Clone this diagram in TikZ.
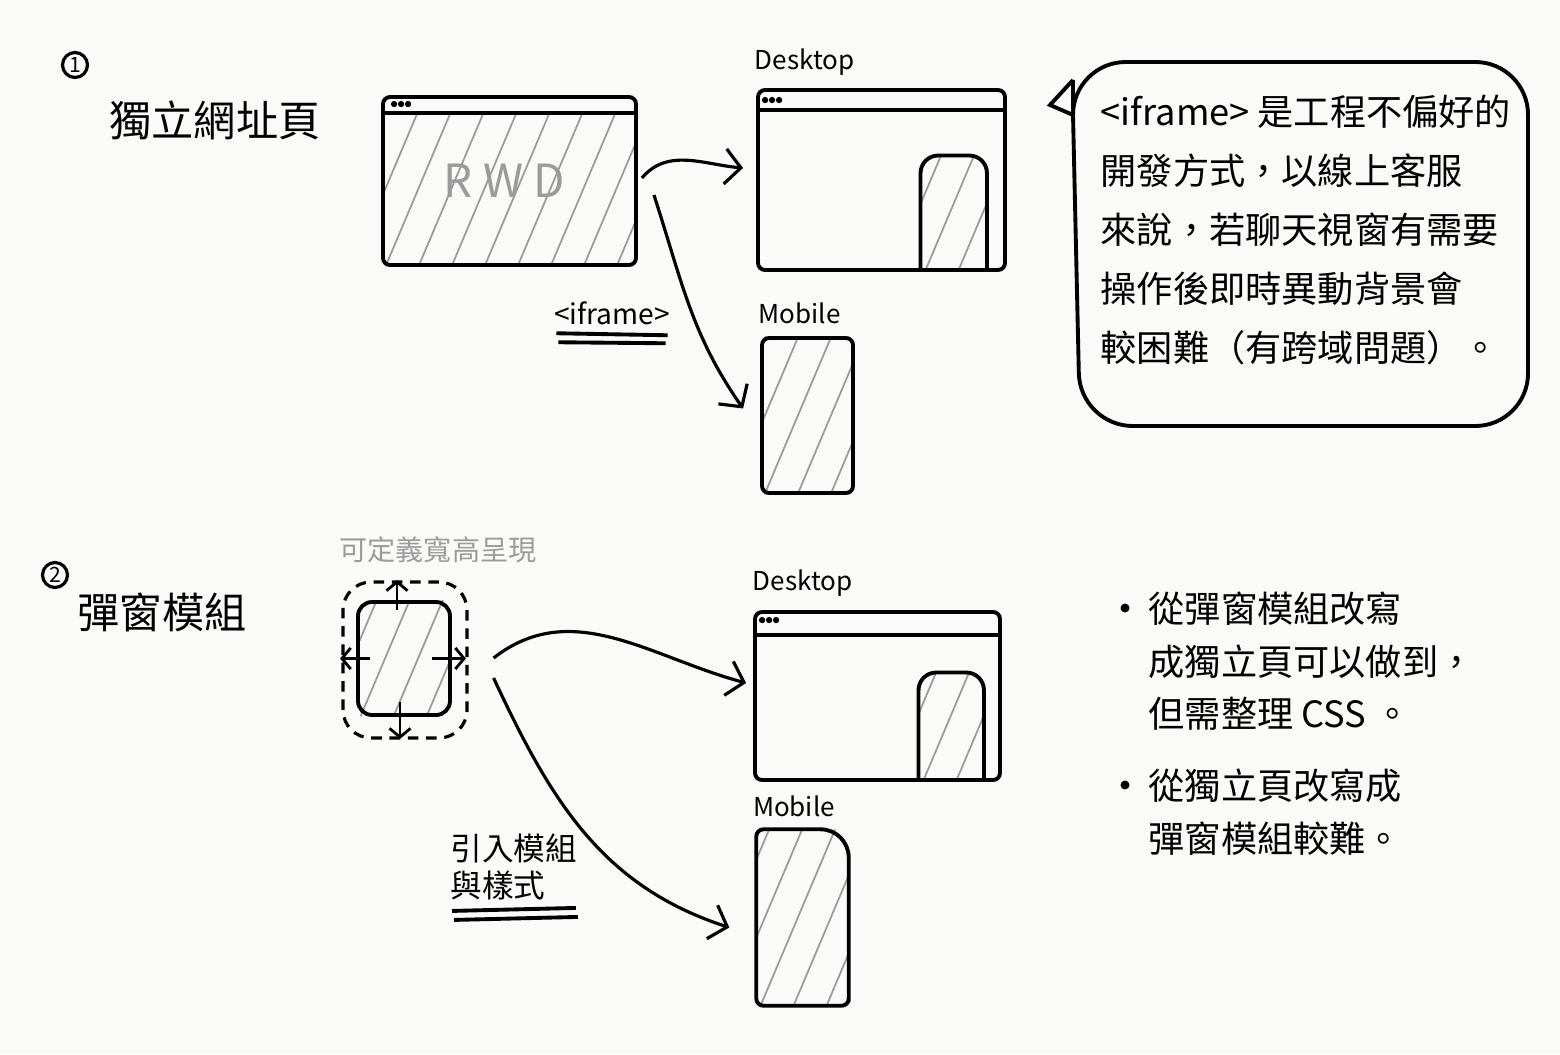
\documentclass[tikz,border=0pt]{standalone}
\usepackage{fontspec}
\setmainfont{Noto Sans CJK TC}
\usetikzlibrary{positioning,calc,arrows.meta,backgrounds}

\definecolor{paper}{RGB}{250,250,248}
\definecolor{pencil}{RGB}{155,155,155}

\tikzset{
  winbox/.style={draw, line width=1.1pt, rounded corners=2pt, inner sep=0pt},
  padbox/.style={inner sep=0pt},
  winline/.style={line width=1.1pt},
  popzone/.style={draw, line width=0.9pt, dash pattern=on 3pt off 2.2pt, rounded corners=8pt, inner sep=0pt},
  hatchline/.style={draw=pencil, line width=0.5pt},
  flow/.style={line width=0.9pt, -{Straight Barb[length=4.5pt,width=10pt]}},
  growarrow/.style={line width=0.8pt, -{Straight Barb[length=2.5pt,width=6pt]}},
  uline/.style={line width=1.1pt},
  numcirc/.style={draw, circle, line width=0.9pt, inner sep=0pt, minimum size=0.25cm, font=\fontsize{6}{6}\selectfont},
  headline/.style={inner sep=0pt, font=\fontsize{12}{14}\selectfont},
  lbl/.style={inner sep=0pt, font=\fontsize{7.4}{9}\selectfont},
  notetext/.style={inner sep=0pt, align=left, font=\fontsize{10.3}{16.8}\selectfont},
  bullettext/.style={inner sep=0pt, align=left, font=\fontsize{10.3}{15}\selectfont},
  dot/.style={fill, circle, inner sep=0pt, minimum size=0.09cm}
}

% diagonal pencil hatching inside a box
\newcommand{\hatcharea}[2]{%
  \begin{pgfonlayer}{background}
  \begin{scope}
    \clip[rounded corners=2pt] (#1) rectangle (#2);
    \foreach \k in {-3,...,8}
      \draw[hatchline] ($(#1)+(\k*0.33,-0.1)$) -- ++(1.1,2.6);
  \end{scope}
  \end{pgfonlayer}}

\begin{document}
\begin{tikzpicture}
	\begin{pgfonlayer}{background}
	\fill[paper] (0,0) rectangle (15.6,-10.54);
	\end{pgfonlayer}
	\useasboundingbox (0,0) rectangle (15.6,-10.54);

	% part 1
	\node[numcirc] (one) at (0.75,-0.65) {1};
	\node[headline] (title1) at (2.15,-1.2) {獨立網址頁};

	\node[winbox, minimum width=2.53cm, minimum height=1.68cm] (rwd) at (5.095,-1.81) {};
	\draw[winline] ([yshift=-0.18cm]rwd.north west) -- ([yshift=-0.18cm]rwd.north east);
	\foreach \d in {0.13,0.2,0.27}
		\fill ([xshift=\d cm,yshift=-0.09cm]rwd.north west) circle (0.9pt);
	\hatcharea{rwd.south west}{[yshift=-0.18cm]rwd.north east}
	\node[inner sep=0pt, text=pencil, font=\fontsize{13}{14}\selectfont] (rwdtxt) at ([xshift=-0.05cm]rwd.center) {R\hspace{3pt}W\hspace{3pt}D};

	\node[winbox, minimum width=2.47cm, minimum height=1.8cm] (desk1) at (8.815,-1.8) {};
	\draw[winline] ([yshift=-0.22cm]desk1.north west) -- ([yshift=-0.22cm]desk1.north east);
	\foreach \d in {0.09,0.16,0.23}
		\fill ([xshift=\d cm,yshift=-0.12cm]desk1.north west) circle (0.9pt);
	\node[padbox, minimum width=0.65cm, minimum height=1.15cm, anchor=south east] (chat1) at ([xshift=-0.2cm]desk1.south east) {};
	\draw[winline, rounded corners=5pt] (chat1.south west) -- (chat1.north west) -- (chat1.north east) -- (chat1.south east);
	\hatcharea{chat1.south west}{chat1.north east}
	\node[lbl, above right=0.12cm and -0.02cm of desk1.north west] (desk1lbl) {Desktop};

	\node[winbox, minimum width=0.91cm, minimum height=1.55cm] (mob1) at (8.075,-4.155) {};
	\hatcharea{mob1.south west}{mob1.north east}
	\node[lbl, above right=0.12cm and -0.02cm of mob1.north west] (mob1lbl) {Mobile};

	\draw[flow] ([xshift=0.04cm,yshift=0.03cm]rwd.east) to[out=50,in=175] ([xshift=-0.13cm,yshift=0.12cm]desk1.west);
	\draw[flow] ([xshift=0.16cm,yshift=-0.14cm]rwd.east) to[out=-72,in=125] ([xshift=-0.17cm,yshift=0.07cm]mob1.west);

	\node[lbl, font=\fontsize{8}{9}\selectfont] (ifr) at (6.12,-3.13) {<iframe>};
	\draw[uline] ([xshift=0.03cm,yshift=-0.08cm]ifr.south west) -- ([xshift=-0.03cm,yshift=-0.1cm]ifr.south east);
	\draw[uline] ([xshift=0.05cm,yshift=-0.17cm]ifr.south west) -- ([xshift=-0.05cm,yshift=-0.18cm]ifr.south east);

	% speech bubble
	\draw[winline] (10.73,-0.80) -- (10.50,-1.05) -- (10.73,-1.15)
		[rounded corners=15pt] -- (10.80,-4.26) -- (15.28,-4.26) -- (15.28,-0.62) -- (10.73,-0.62) -- (10.73,-0.80);
	\node[notetext, anchor=north west] (note) at (11.0,-0.94) {<iframe> 是工程不偏好的\\開發方式，以線上客服\\來說，若聊天視窗有需要\\操作後即時異動背景會\\較困難（有跨域問題）。};

	% part 2
	\node[numcirc] (two) at (0.55,-5.75) {2};
	\node[headline] (title2) at (1.62,-6.12) {彈窗模組};

	\node[popzone, minimum width=1.24cm, minimum height=1.56cm] (pop) at (4.05,-6.6) {};
	\node[winbox, rounded corners=4pt, minimum width=0.92cm, minimum height=1.13cm] (pin) at (4.04,-6.585) {};
	\hatcharea{pin.south west}{pin.north east}
	\draw[growarrow] ([xshift=-0.07cm,yshift=-0.1cm]pin.north) -- ([xshift=-0.07cm,yshift=0.2cm]pin.north);
	\draw[growarrow] ([xshift=0.14cm]pin.west) -- ([xshift=-0.16cm]pin.west);
	\draw[growarrow] ([xshift=-0.2cm]pin.east) -- ([xshift=0.14cm]pin.east);
	\draw[growarrow] ([xshift=-0.04cm,yshift=0.15cm]pin.south) -- ([xshift=-0.04cm,yshift=-0.22cm]pin.south);
	\node[lbl, text=pencil, font=\fontsize{8}{9}\selectfont, above=0.17cm of pop.north, xshift=0.33cm] (sizelbl) {可定義寬高呈現};

	\node[winbox, minimum width=2.45cm, minimum height=1.68cm] (desk2) at (8.775,-6.96) {};
	\draw[winline] ([yshift=-0.25cm]desk2.north west) -- ([yshift=-0.25cm]desk2.north east);
	\foreach \d in {0.09,0.16,0.23}
		\fill ([xshift=\d cm,yshift=-0.1cm]desk2.north west) circle (0.9pt);
	\node[padbox, minimum width=0.64cm, minimum height=1.08cm, anchor=south east] (chat2) at ([xshift=-0.18cm]desk2.south east) {};
	\draw[winline, rounded corners=5pt] (chat2.south west) -- (chat2.north west) -- (chat2.north east) -- (chat2.south east);
	\hatcharea{chat2.south west}{chat2.north east}
	\node[lbl, above right=0.13cm and -0.01cm of desk2.north west] (desk2lbl) {Desktop};

	\node[padbox, minimum width=0.91cm, minimum height=1.75cm] (mob2) at (8.025,-9.175) {};
	\draw[winline] (mob2.south east) [rounded corners=2pt] -- (mob2.south west) -- (mob2.north west)
		[rounded corners=8pt] -- (mob2.north east) [rounded corners=2pt] -- (mob2.south east) -- cycle;
	\hatcharea{mob2.south west}{mob2.north east}
	\node[lbl, above right=0.12cm and -0.04cm of mob2.north west] (mob2lbl) {Mobile};

	\draw[flow] ([xshift=0.25cm,yshift=0.02cm]pop.east) to[out=38,in=165] ([xshift=-0.07cm,yshift=0.13cm]desk2.west);
	\draw[flow] ([xshift=0.25cm,yshift=-0.18cm]pop.east) to[out=-65,in=162] ([xshift=-0.27cm,yshift=-0.1cm]mob2.west);

	\node[lbl, align=left, font=\fontsize{9}{10.6}\selectfont, anchor=north west] (imp) at (4.5,-8.33) {引入模組\\與樣式};
	\draw[uline] ([xshift=0.02cm,yshift=-0.1cm]imp.south west) -- ([xshift=-0.02cm,yshift=-0.07cm]imp.south east);
	\draw[uline] ([xshift=0.04cm,yshift=-0.19cm]imp.south west) -- ([xshift=0cm,yshift=-0.16cm]imp.south east);

	% notes
	\node[dot] (dot1) at (11.25,-6.08) {};
	\node[bullettext, anchor=north west] (pt1) at ([xshift=0.23cm,yshift=0.17cm]dot1.center) {從彈窗模組改寫\\成獨立頁可以做到，\\但需整理 CSS 。};
	\node[dot] (dot2) at (11.25,-7.85) {};
	\node[bullettext, anchor=north west] (pt2) at ([xshift=0.23cm,yshift=0.17cm]dot2.center) {從獨立頁改寫成\\彈窗模組較難。};
\end{tikzpicture}
\end{document}
